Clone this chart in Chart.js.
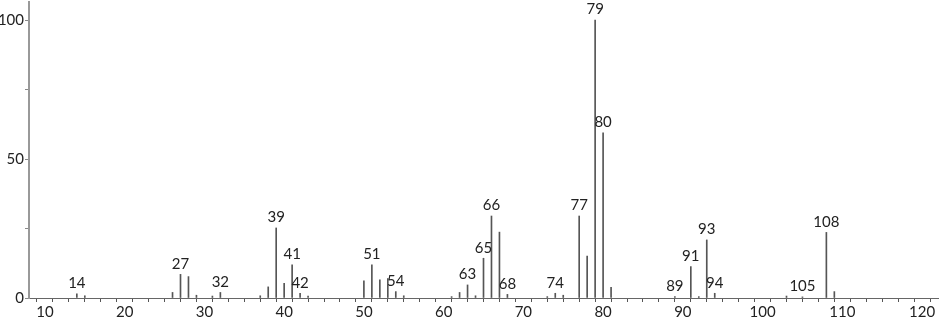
<!DOCTYPE html>
<html>
<head>
<meta charset="utf-8">
<script src="https://cdn.jsdelivr.net/npm/chart.js@4/dist/chart.umd.min.js"></script>
<style>
  html, body { margin: 0; padding: 0; background: #fff; }
  #wrap { width: 940px; height: 320px; }
</style>
</head>
<body>
<div id="wrap"><canvas id="spec"></canvas></div>
<script>
  // m/z values and relative intensities
  const mz = [14, 15, 26, 27, 28, 29, 31, 32, 37, 38, 39, 40, 41, 42, 43,
              50, 51, 52, 53, 54, 55, 61, 62, 63, 64, 65, 66, 67, 68,
              73, 74, 75, 77, 78, 79, 80, 81, 89, 91, 92, 93, 94,
              103, 105, 108, 109];
  const intensity = [1.5, 0.8, 2, 8.5, 7.7, 1, 0.7, 2, 0.8, 4, 25.2, 5.3, 11.9, 1.7, 0.7,
                     6.2, 11.9, 6.5, 7, 2.3, 0.8, 0.5, 2, 4.7, 0.8, 14.3, 29.5, 23.7, 1.3,
                     0.5, 1.7, 1, 29.5, 15.1, 100, 59.4, 3.8, 0.5, 11.3, 0.5, 20.9, 1.7,
                     0.7, 0.4, 23.6, 2.3];
  const labelled = [14, 27, 32, 39, 41, 42, 51, 54, 63, 65, 66, 68, 74, 77,
                    79, 80, 89, 91, 93, 94, 105, 108];
  const xTickLabels = [10, 20, 30, 40, 50, 60, 70, 80, 90, 100, 110, 120];
  const yTickLabels = [0, 50, 100];

  const points = mz.map((m, i) => ({ x: m, y: intensity[i] }));

  const peakLabels = {
    id: 'peakLabels',
    afterDatasetsDraw(chart) {
      const ctx = chart.ctx;
      const xs = chart.scales.x, ys = chart.scales.y;
      ctx.save();
      ctx.font = '15px Lato';
      ctx.fillStyle = '#222';
      ctx.textAlign = 'center';
      ctx.textBaseline = 'bottom';
      for (let m of labelled) {
        const i = mz.indexOf(m);
        if (i < 0) continue;
        ctx.fillText(String(m), xs.getPixelForValue(m), ys.getPixelForValue(intensity[i]) - 3);
      }
      ctx.restore();
    }
  };

  new Chart(document.getElementById('spec'), {
    type: 'bar',
    data: {
      datasets: [{
        data: points,
        backgroundColor: '#555',
        barThickness: 1,
        grouped: false
      }]
    },
    options: {
      responsive: true,
      maintainAspectRatio: false,
      animation: false,
      layout: { padding: { top: 2, right: 2, left: 0, bottom: 0 } },
      plugins: { legend: { display: false }, tooltip: { enabled: false } },
      scales: {
        x: {
          type: 'linear',
          min: 8,
          max: 122,
          offset: false,
          afterBuildTicks: s => {
            const t = [];
            for (let v = 10; v <= 120; v += 2) t.push({ value: v });
            s.ticks = t;
          },
          afterFit: s => { s.height = 22; s.paddingRight = 0; },
          grid: { display: true, drawOnChartArea: false, tickLength: 4, color: '#555' },
          border: { display: true, color: '#666', width: 1 },
          ticks: {
            autoSkip: false,
            maxRotation: 0,
            padding: 1,
            color: '#222',
            font: { family: 'Lato', size: 15 },
            callback: v => xTickLabels.includes(v) ? String(v) : ''
          }
        },
        y: {
          min: 0,
          max: 106.5,
          afterBuildTicks: s => {
            s.ticks = [0, 25, 50, 75, 100].map(v => ({ value: v }));
          },
          afterFit: s => { s.width = 29; s.paddingTop = 0; s.paddingBottom = 0; },
          grid: { display: true, drawOnChartArea: false, tickLength: 4, color: '#888' },
          border: { display: true, color: '#999', width: 2 },
          ticks: {
            padding: 1,
            color: '#222',
            font: { family: 'Lato', size: 15 },
            callback: v => yTickLabels.includes(v) ? String(v) : ''
          }
        }
      }
    },
    plugins: [peakLabels]
  });
</script>
</body>
</html>
